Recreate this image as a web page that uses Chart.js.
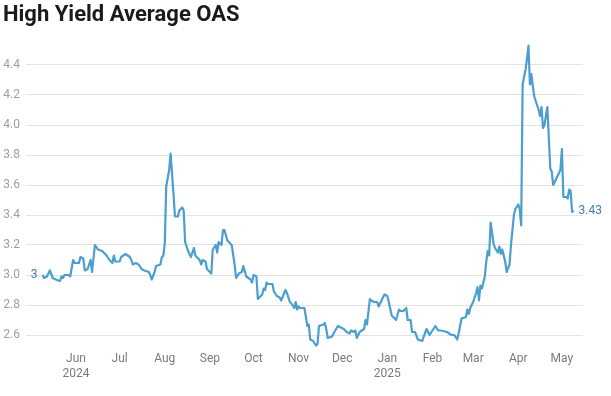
<!DOCTYPE html>
<html>
<head>
<meta charset="utf-8">
<title>High Yield Average OAS</title>
<script src="https://cdn.jsdelivr.net/npm/chart.js@4/dist/chart.umd.min.js"></script>
<style>
    html, body { margin: 0; padding: 0; background: #fff; }
    #wrap { position: relative; width: 611px; height: 396px; }
    #title { position: absolute; left: 3px; top: 1px; font: 700 22px Roboto, sans-serif; color: #1a1a1a; white-space: nowrap; }
    #oasChart { position: absolute; left: 0; top: 0; }
</style>
</head>
<body>
<div id="wrap">
    <canvas id="oasChart" width="611" height="396"></canvas>
    <div id="title">High Yield Average OAS</div>
</div>
<script>
// Observation dates (one line per month)
const dates = [
    '2024-05-09','2024-05-10','2024-05-12','2024-05-14','2024-05-16','2024-05-18','2024-05-21','2024-05-22','2024-05-23','2024-05-24','2024-05-27','2024-05-28','2024-05-30','2024-05-31',
    '2024-06-03','2024-06-04','2024-06-06','2024-06-07','2024-06-09','2024-06-11','2024-06-12','2024-06-14','2024-06-16','2024-06-19','2024-06-22','2024-06-24','2024-06-26','2024-06-27','2024-06-28',
    '2024-07-01','2024-07-02','2024-07-05','2024-07-08','2024-07-09','2024-07-10','2024-07-12','2024-07-14','2024-07-16','2024-07-18','2024-07-21','2024-07-22','2024-07-23','2024-07-25','2024-07-26','2024-07-29','2024-07-30','2024-07-31',
    '2024-08-01','2024-08-02','2024-08-04','2024-08-05','2024-08-07','2024-08-08','2024-08-10','2024-08-11','2024-08-13','2024-08-14','2024-08-15','2024-08-17','2024-08-19','2024-08-21','2024-08-22','2024-08-25','2024-08-26','2024-08-27','2024-08-29','2024-08-30',
    '2024-09-01','2024-09-02','2024-09-03','2024-09-05','2024-09-06','2024-09-07','2024-09-09','2024-09-10','2024-09-11','2024-09-13','2024-09-16','2024-09-18','2024-09-19','2024-09-21','2024-09-23','2024-09-24','2024-09-26','2024-09-29','2024-09-30',
    '2024-10-01','2024-10-03','2024-10-04','2024-10-07','2024-10-08','2024-10-09','2024-10-10','2024-10-11','2024-10-14','2024-10-15','2024-10-17','2024-10-19','2024-10-20','2024-10-23','2024-10-24','2024-10-26','2024-10-27','2024-10-29','2024-10-30','2024-10-31',
    '2024-11-01','2024-11-02','2024-11-05','2024-11-07','2024-11-08','2024-11-09','2024-11-11','2024-11-13','2024-11-14','2024-11-15','2024-11-18','2024-11-19','2024-11-20','2024-11-21','2024-11-24','2024-11-25','2024-11-28','2024-11-30',
    '2024-12-02','2024-12-04','2024-12-06','2024-12-07','2024-12-09','2024-12-10','2024-12-11','2024-12-13','2024-12-16','2024-12-17','2024-12-18','2024-12-20','2024-12-21','2024-12-23','2024-12-25','2024-12-26','2024-12-28','2024-12-30',
    '2025-01-01','2025-01-02','2025-01-04','2025-01-06','2025-01-07','2025-01-09','2025-01-10','2025-01-12','2025-01-14','2025-01-15','2025-01-17','2025-01-18','2025-01-20','2025-01-22','2025-01-25','2025-01-26','2025-01-28','2025-01-30',
    '2025-02-01','2025-02-03','2025-02-05','2025-02-07','2025-02-11','2025-02-14','2025-02-16','2025-02-18','2025-02-19','2025-02-21','2025-02-24','2025-02-25','2025-02-26','2025-02-27',
    '2025-03-01','2025-03-03','2025-03-04','2025-03-05','2025-03-06','2025-03-07','2025-03-09','2025-03-10','2025-03-11','2025-03-12','2025-03-13','2025-03-15','2025-03-16','2025-03-18','2025-03-19','2025-03-20','2025-03-21','2025-03-23','2025-03-24','2025-03-26','2025-03-27','2025-03-29','2025-03-30',
    '2025-04-01','2025-04-02','2025-04-03','2025-04-04','2025-04-06','2025-04-07','2025-04-08','2025-04-09','2025-04-10','2025-04-11','2025-04-12','2025-04-13','2025-04-15','2025-04-16','2025-04-17','2025-04-18','2025-04-19','2025-04-21','2025-04-23','2025-04-24','2025-04-25','2025-04-27','2025-04-30',
    '2025-05-01','2025-05-02','2025-05-04','2025-05-05','2025-05-06','2025-05-07','2025-05-08','2025-05-09'
];

// OAS values, same layout as dates
const oasValues = [
    3.00, 2.98, 2.99, 3.03, 2.98, 2.97, 2.96, 2.99, 2.98, 3.00, 3.00, 2.99, 3.10, 3.08,
    3.08, 3.12, 3.11, 3.03, 3.04, 3.10, 3.02, 3.20, 3.17, 3.16, 3.13, 3.10, 3.08, 3.13, 3.09,
    3.09, 3.12, 3.14, 3.12, 3.10, 3.07, 3.08, 3.07, 3.04, 3.03, 3.02, 3.00, 2.97, 3.02, 3.06, 3.07, 3.12, 3.13,
    3.21, 3.59, 3.70, 3.81, 3.54, 3.39, 3.39, 3.43, 3.45, 3.43, 3.22, 3.16, 3.12, 3.18, 3.13, 3.10, 3.07, 3.10, 3.09, 3.04,
    3.02, 3.01, 3.17, 3.20, 3.15, 3.22, 3.20, 3.30, 3.30, 3.23, 3.20, 3.07, 2.98, 3.01, 3.02, 3.06, 2.99, 2.97, 2.95,
    3.00, 2.99, 2.84, 2.87, 2.91, 2.90, 2.95, 2.94, 2.94, 2.89, 2.86, 2.85, 2.83, 2.90, 2.88, 2.82, 2.81, 2.78, 2.82, 2.77,
    2.79, 2.78, 2.78, 2.66, 2.67, 2.57, 2.56, 2.53, 2.54, 2.66, 2.67, 2.68, 2.64, 2.58, 2.59, 2.61, 2.66, 2.65,
    2.64, 2.62, 2.61, 2.63, 2.62, 2.63, 2.58, 2.62, 2.64, 2.70, 2.67, 2.84, 2.83, 2.82, 2.82, 2.79, 2.83, 2.87,
    2.86, 2.82, 2.73, 2.71, 2.70, 2.77, 2.76, 2.76, 2.78, 2.70, 2.70, 2.62, 2.62, 2.57, 2.56, 2.59, 2.64, 2.60,
    2.63, 2.66, 2.63, 2.63, 2.62, 2.60, 2.60, 2.57, 2.61, 2.71, 2.72, 2.77, 2.74, 2.78,
    2.82, 2.88, 2.92, 2.83, 2.93, 2.91, 2.99, 3.09, 3.16, 3.13, 3.35, 3.21, 3.18, 3.15, 3.19, 3.14, 3.17, 3.09, 3.02, 3.07, 3.20, 3.40, 3.44,
    3.47, 3.44, 3.33, 4.27, 4.37, 4.44, 4.53, 4.27, 4.34, 4.26, 4.19, 4.16, 4.10, 4.06, 4.12, 3.98, 4.00, 4.12, 3.71, 3.69, 3.60, 3.64, 3.70,
    3.84, 3.52, 3.52, 3.51, 3.57, 3.56, 3.42, 3.43
];

// Axis labels
const yTicks = [2.6, 2.8, 3.0, 3.2, 3.4, 3.6, 3.8, 4.0, 4.2, 4.4];
const monthStarts = ['2024-06-01','2024-07-01','2024-08-01','2024-09-01','2024-10-01','2024-11-01',
                     '2024-12-01','2025-01-01','2025-02-01','2025-03-01','2025-04-01','2025-05-01'];
const monthNames = ['Jun','Jul','Aug','Sep','Oct','Nov','Dec','Jan','Feb','Mar','Apr','May'];
const yearLabels = { '2024-06-01': '2024', '2025-01-01': '2025' };

// days since 1 Jun 2024
const ORIGIN = Date.UTC(2024, 5, 1);
function dayNum(s) {
    const p = s.split('-').map(Number);
    return (Date.UTC(p[0], p[1] - 1, p[2]) - ORIGIN) / 864e5;
}

const points = dates.map((d, i) => ({ x: dayNum(d), y: oasValues[i] }));
const monthDays = monthStarts.map(dayNum);

// value labels at first and last point
const endLabels = {
    id: 'endLabels',
    afterDatasetsDraw(chart) {
        const meta = chart.getDatasetMeta(0);
        const first = meta.data[0];
        const last = meta.data[meta.data.length - 1];
        const ctx = chart.ctx;
        ctx.save();
        ctx.font = '12px Roboto, sans-serif';
        ctx.fillStyle = '#3f7fba';
        ctx.textBaseline = 'middle';
        ctx.textAlign = 'right';
        ctx.fillText(String(oasValues[0]), first.x - 5, first.y);
        ctx.textAlign = 'left';
        ctx.fillText(String(oasValues[oasValues.length - 1]), last.x + 5, last.y);
        ctx.restore();
    }
};

new Chart(document.getElementById('oasChart'), {
    type: 'line',
    data: {
        datasets: [{
            data: points,
            borderColor: '#4a9fce',
            borderWidth: 2.2,
            pointRadius: 0,
            tension: 0,
            borderJoinStyle: 'round',
            fill: false
        }]
    },
    options: {
        responsive: false,
        animation: false,
        layout: { padding: { top: 44, right: 28, left: 0, bottom: 0 } },
        plugins: {
            legend: { display: false },
            tooltip: { enabled: false }
        },
        scales: {
            x: {
                type: 'linear',
                min: -34.4,
                max: 348.5,
                afterFit: (s) => { s.height = 49; },
                afterBuildTicks: (s) => { s.ticks = monthDays.map(v => ({ value: v })); },
                grid: { display: false, drawTicks: false },
                border: { display: false },
                ticks: {
                    autoSkip: false,
                    maxRotation: 0,
                    padding: 5,
                    color: '#7a7a7a',
                    font: { family: 'Roboto', size: 12 },
                    callback: (v) => {
                        const i = monthDays.indexOf(v);
                        const key = monthStarts[i];
                        return yearLabels[key] ? [monthNames[i], yearLabels[key]] : monthNames[i];
                    }
                }
            },
            y: {
                min: 2.52,
                max: 4.54,
                afterFit: (s) => { s.width = 26; },
                afterBuildTicks: (s) => { s.ticks = yTicks.map(v => ({ value: v })); },
                grid: { color: '#e3e3e3', drawTicks: false },
                border: { display: false },
                ticks: {
                    padding: 6,
                    color: '#9e9e9e',
                    font: { family: 'Roboto', size: 12 },
                    callback: (v) => v.toFixed(1)
                }
            }
        }
    },
    plugins: [endLabels]
});
</script>
</body>
</html>
